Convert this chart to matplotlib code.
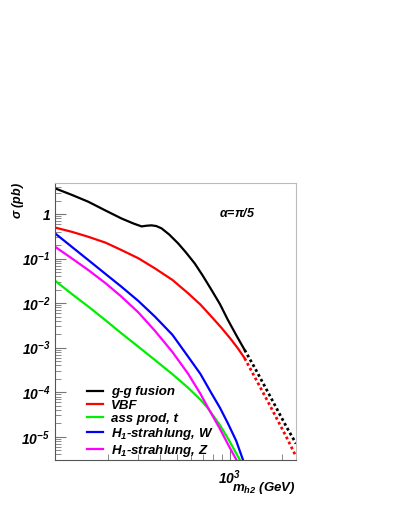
import math
import matplotlib
matplotlib.use("Agg")
import matplotlib.pyplot as plt
from matplotlib.ticker import LogLocator, FixedLocator, NullFormatter, FuncFormatter

# cross sections (pb) vs m_h2 (GeV), alpha = pi/5
gg_m = [100, 125, 155, 195, 240, 280, 313, 335, 357, 380, 407, 450, 507, 560, 631, 700, 786, 880, 977, 1100, 1218]
gg_xs = [3.8, 2.7, 1.9, 1.2, 0.80, 0.62, 0.53, 0.55, 0.56, 0.54, 0.48, 0.35, 0.22, 0.14, 0.078, 0.042,
         0.020, 0.0095, 0.0042, 0.0018, 8.9e-4]
gg_m_hi = [1218, 1400, 1694, 2109, 2400]
gg_xs_hi = [8.9e-4, 3.4e-4, 8.5e-5, 1.7e-5, 7.0e-6]

vbf_m = [100, 125, 155, 195, 240, 300, 373, 470, 578, 680, 786, 900, 1023, 1120, 1218]
vbf_xs = [0.50, 0.40, 0.31, 0.228, 0.156, 0.102, 0.0606, 0.0333, 0.0167, 0.0093, 0.0050, 0.00276,
          0.0015, 9.4e-4, 5.8e-4]
vbf_m_hi = [1218, 1400, 1694, 2109, 2400]
vbf_xs_hi = [5.8e-4, 2.1e-4, 5.2e-5, 1.0e-5, 3.6e-6]

tt_m = [100, 125, 155, 195, 240, 300, 373, 470, 578, 680, 751, 880, 977, 1140]
tt_xs = [0.032, 0.016, 0.0084, 0.0041, 0.0021, 0.00105, 5.3e-4, 2.54e-4, 1.26e-4, 6.8e-5, 4.35e-5,
         1.82e-5, 9.2e-6, 3.1e-6]

hw_m = [100, 125, 155, 195, 240, 300, 373, 470, 578, 680, 786, 880, 977, 1090, 1191]
hw_xs = [0.37, 0.183, 0.093, 0.045, 0.0234, 0.0112, 0.0050, 0.00195, 6.3e-4, 2.57e-4, 9.5e-5, 4.46e-5,
         2.0e-5, 8.1e-6, 3.05e-6]

hz_m = [100, 125, 155, 195, 240, 300, 373, 470, 578, 680, 751, 880, 977, 1092]
hz_xs = [0.185, 0.101, 0.0555, 0.0279, 0.014, 0.0062, 0.0024, 8.0e-4, 2.6e-4, 9.2e-5, 4.5e-5, 1.5e-5,
         6.8e-6, 3.05e-6]

labels = ["g-g fusion", "VBF", "ass prod, t", "H$_1$-strahlung, W", "H$_1$-strahlung, Z"]

plt.rcParams["font.family"] = "Liberation Sans"
plt.rcParams["font.weight"] = "bold"
plt.rcParams["font.style"] = "italic"
plt.rcParams["mathtext.fontset"] = "custom"
plt.rcParams["mathtext.rm"] = "Liberation Sans:bold:italic"
plt.rcParams["mathtext.it"] = "Liberation Sans:bold:italic"
plt.rcParams["mathtext.bf"] = "Liberation Sans:bold:italic"

fig = plt.figure(figsize=(3.99, 5.16), dpi=100)
ax = fig.add_axes([0.138, 0.1085, 0.604, 0.5368])

lw = 1.6
ax.plot(gg_m, gg_xs, color="black", lw=lw, label=labels[0])
ax.plot(vbf_m, vbf_xs, color="red", lw=lw, label=labels[1])
ax.plot(tt_m, tt_xs, color="#00ee00", lw=lw, label=labels[2])
ax.plot(hw_m, hw_xs, color="blue", lw=lw, label=labels[3])
ax.plot(hz_m, hz_xs, color="magenta", lw=lw, label=labels[4])
ax.plot(vbf_m_hi, vbf_xs_hi, color="red", lw=2, ls=(0, (1, 1)))
ax.plot(gg_m_hi, gg_xs_hi, color="black", lw=2, ls=(0, (1, 1)))

ax.set_xscale("log")
ax.set_yscale("log")
ax.set_xlim(100, 2400)
ax.set_ylim(3e-6, 5)

ax.xaxis.set_major_locator(FixedLocator([1000]))
ax.xaxis.set_major_formatter(FuncFormatter(lambda v, p: "$10^{3}$"))
ax.xaxis.set_minor_locator(LogLocator(base=10, subs=range(2, 10)))
ax.xaxis.set_minor_formatter(NullFormatter())


def ylab(v, p):
    e = int(round(math.log10(v)))
    if e == 0:
        return "1"
    return "$10^{%d}$" % e


ax.yaxis.set_major_locator(FixedLocator([1e-5, 1e-4, 1e-3, 1e-2, 1e-1, 1]))
ax.yaxis.set_major_formatter(FuncFormatter(ylab))
ax.yaxis.set_minor_locator(LogLocator(base=10, subs=range(2, 10)))
ax.yaxis.set_minor_formatter(NullFormatter())

ax.tick_params(which="both", direction="in", top=False, right=False, labelsize=10,
               color="#777777")
ax.tick_params(which="major", length=8)
ax.tick_params(which="minor", length=4)
ax.tick_params(axis="x", pad=6)

for s in ["top", "right"]:
    ax.spines[s].set_color("#bbbbbb")
for s in ["left", "bottom"]:
    ax.spines[s].set_color("#555555")

ax.text(0.83, 0.89, r"$\alpha$=$\pi$/5", transform=ax.transAxes, ha="right", va="center",
        fontsize=9)

fig.text(18 / 399, 1 - 182 / 516, r"$\sigma$ (pb)", rotation=90, ha="center", va="top",
         fontsize=9)
fig.text(296 / 399, 1 - 488 / 516, "m$_{h2}$ (GeV)", ha="right", va="center", fontsize=9.5)

ax.legend(loc="lower left", bbox_to_anchor=(0.1, -0.025), frameon=False, fontsize=9.5,
          handlelength=1.2, handletextpad=0.6, labelspacing=0.08, borderaxespad=0.2)

fig.savefig("out.png", dpi=100)
